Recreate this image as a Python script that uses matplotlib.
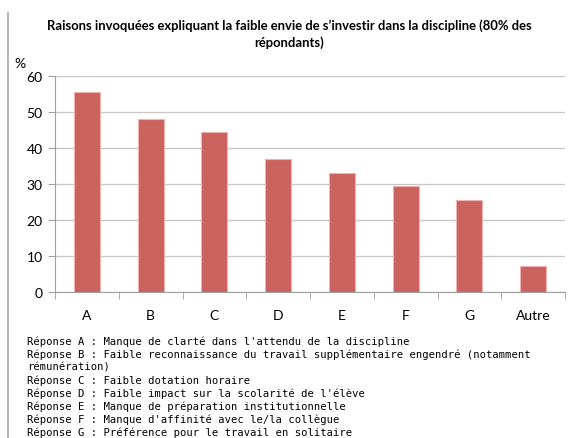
import matplotlib
matplotlib.use("Agg")
import matplotlib.pyplot as plt
from matplotlib.lines import Line2D
import numpy as np

categories = ["A", "B", "C", "D", "E", "F", "G", "Autre"]
values = [55.6, 48.1, 44.4, 36.9, 33.1, 29.5, 25.6, 7.4]

title = "Raisons invoquées expliquant la faible envie de s’investir dans la discipline (80% des\nrépondants)"
notes = [
    "Réponse A : Manque de clarté dans l'attendu de la discipline",
    "Réponse B : Faible reconnaissance du travail supplémentaire engendré (notamment",
    "rémunération)",
    "Réponse C : Faible dotation horaire",
    "Réponse D : Faible impact sur la scolarité de l'élève",
    "Réponse E : Manque de préparation institutionnelle",
    "Réponse F : Manque d'affinité avec le/la collègue",
    "Réponse G : Préférence pour le travail en solitaire",
]

W, H = 568, 439
fig = plt.figure(figsize=(W / 100, H / 100), dpi=100)
ax = fig.add_axes([55 / W, 1 - 293.3 / H, 510 / W, 216 / H])

x = np.arange(len(categories))
ax.bar(x, values, width=0.41, color="#CB625E", edgecolor="#EDB3B0", linewidth=0.8, zorder=3)

ax.set_xlim(-0.5, len(categories) - 0.5)
ax.set_ylim(0, 60)
ax.set_yticks(range(0, 61, 10))
ax.set_xticks(x)
ax.set_xticklabels(categories)
ax.set_xticks(np.arange(-0.5, len(categories), 1), minor=True)
ax.tick_params(axis="x", which="major", length=0, pad=12, labelsize=10)
ax.tick_params(axis="x", which="minor", length=5, color="#A0A0A0", direction="out")
ax.tick_params(axis="y", length=5, color="#A0A0A0", labelsize=10, pad=4)
for lab in ax.get_xticklabels() + ax.get_yticklabels():
    lab.set_family("Lato")

ax.grid(axis="y", color="#C8C8C8", linewidth=1.0, zorder=0)
for s in ["top", "right"]:
    ax.spines[s].set_visible(False)
ax.spines["left"].set_color("#A0A0A0")
ax.spines["bottom"].set_color("#A0A0A0")

fig.text(289 / W, 1 - 34 / H, title, ha="center", va="center", fontsize=9.4,
         fontweight="bold", family="Lato", linespacing=1.45)
fig.text(14 / W, 1 - 64 / H, "%", ha="left", va="center", fontsize=10, family="Lato")

for i, line in enumerate(notes):
    fig.text(27 / W, 1 - (342 + i * 13.0) / H, line, ha="left", va="center",
             fontsize=7.6, family="DejaVu Sans Mono")

fig.add_artist(Line2D([8 / W, 8 / W], [0, 1 - 14 / H], color="#A8A8B0", linewidth=1.2))

fig.savefig("out.png", dpi=100)
